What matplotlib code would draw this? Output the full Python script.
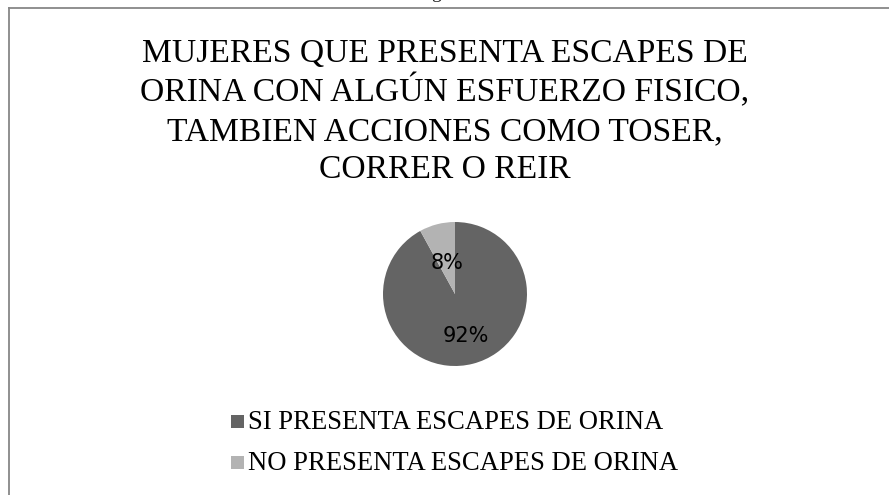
import matplotlib
matplotlib.use('Agg')
import matplotlib.pyplot as plt
import numpy as np
from matplotlib.patches import Rectangle
from matplotlib.lines import Line2D

# datos de la encuesta
categorias = ['SI PRESENTA ESCAPES DE ORINA', 'NO PRESENTA ESCAPES DE ORINA']
porcentajes = [92, 8]
colores = ['#646464', '#b3b3b3']
titulo = ['MUJERES QUE PRESENTA ESCAPES DE',
          'ORINA CON ALGÚN ESFUERZO FISICO,',
          'TAMBIEN ACCIONES COMO TOSER,',
          'CORRER O REIR']

W, H = 889, 495
fig = plt.figure(figsize=(W / 100, H / 100), dpi=100)

def fx(px):
    return px / W

def fy(py):
    return 1 - py / H

# marco del grafico (recortado a la derecha y abajo)
gris = '#878787'
fig.add_artist(Line2D([fx(9), 1], [fy(8), fy(8)], color=gris, lw=1.3))
fig.add_artist(Line2D([fx(9), fx(9)], [fy(8), 0], color=gris, lw=1.3))
fig.text(fx(436), fy(-2), 'g', ha='center', va='baseline', fontsize=14,
         family='Liberation Serif', color='#222222')

# titulo en cuatro lineas
bases = [62, 101, 140, 178]
for linea, b in zip(titulo, bases):
    fig.text(fx(445), fy(b), linea, ha='center', va='baseline',
             fontsize=24.2, family='Liberation Serif', color='black')

# pastel
ax = fig.add_axes([fx(383), fy(366), fx(144), 144 / H])
wedges, textos, autotextos = ax.pie(porcentajes, colors=colores, startangle=90,
                                    counterclock=False, autopct='%1.0f%%',
                                    pctdistance=0.52, radius=1,
                                    textprops={'fontsize': 15, 'family': 'DejaVu Sans',
                                               'color': 'black'})
# distancia de cada etiqueta al centro
dist = [0.6, 0.45]
for w, t, d in zip(wedges, autotextos, dist):
    ang = np.deg2rad((w.theta1 + w.theta2) / 2)
    t.set_position((d * np.cos(ang), d * np.sin(ang)))
ax.set_xlim(-1, 1)
ax.set_ylim(-1, 1)
ax.set_aspect('equal')
ax.axis('off')

# leyenda
filas = [421, 462]
for cat, col, y in zip(categorias, colores, filas):
    fig.add_artist(Rectangle((fx(231), fy(y + 6.5)), fx(13), 13 / H,
                             facecolor=col, edgecolor='none'))
    fig.text(fx(248), fy(y + 8), cat, ha='left', va='baseline',
             fontsize=19.2, family='Liberation Serif', color='black')

plt.savefig('out.png', dpi=100, facecolor='white')
